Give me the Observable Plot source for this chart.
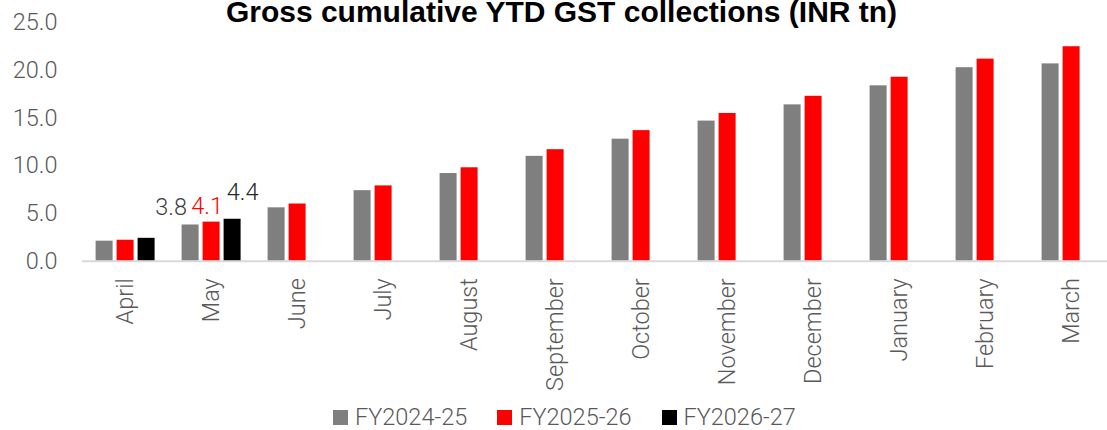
<!DOCTYPE html>
<html>
<head>
<meta charset="utf-8">
<script src="https://cdn.jsdelivr.net/npm/d3@7"></script>
<script src="https://cdn.jsdelivr.net/npm/@observablehq/plot@0.6"></script>
<style>
  html, body { margin: 0; padding: 0; background: #fff; }
  body { width: 1107px; height: 430px; overflow: hidden; position: relative; }
  #chart { position: absolute; left: 0; top: 0; }
  #title { position: absolute; left: 8px; top: 0; width: 1107px; text-align: center;
           font-family: "Liberation Sans", Arial, sans-serif; font-weight: bold; font-size: 30px;
           line-height: 24px; color: #000; z-index: 2; white-space: nowrap; }
  #legend { position: absolute; left: 333px; top: 406px; display: flex; align-items: center;
            font-family: Roboto, sans-serif; font-weight: 300; font-size: 23.5px; line-height: 1; color: #595959; z-index: 2; }
  .item { display: flex; align-items: center; margin-right: 30px; }
  .sw { width: 15px; height: 15px; margin-right: 7px; }
</style>
</head>
<body>
<div id="chart"></div>
<div id="title">Gross cumulative YTD GST collections (INR tn)</div>
<div id="legend"></div>
<script>
const months = ["April","May","June","July","August","September","October","November","December","January","February","March"];
const seriesNames = ["FY2024-25","FY2025-26","FY2026-27"];
const seriesColors = ["#7f7f7f","#ff0000","#000000"];
const fy2425 = [2.1, 3.8, 5.6, 7.4, 9.2, 11.0, 12.8, 14.7, 16.4, 18.4, 20.3, 20.7];
const fy2526 = [2.2, 4.1, 6.0, 7.9, 9.8, 11.7, 13.7, 15.5, 17.3, 19.3, 21.2, 22.5];
const fy2627 = [2.4, 4.4, null, null, null, null, null, null, null, null, null, null];
const yTicks = [0, 5, 10, 15, 20, 25];
const labeledMonth = "May";
const labelColors = ["#404040", "#ff0000", "#262626"];

const seriesValues = [fy2425, fy2526, fy2627];
const data = months.flatMap((m, i) =>
  seriesNames.map((s, j) => ({month: m, series: s, value: seriesValues[j][i]}))
).filter(d => d.value != null);
const labelData = data.filter(d => d.month === labeledMonth);

const labelOffsets = [{dx: -19.5, dy: -18}, {dx: -4.5, dy: -16}, {dx: 10, dy: -27}];

const plot = Plot.plot({
  width: 1107,
  height: 400,
  marginLeft: 80.4,
  marginRight: -8.6,
  marginTop: 22.4,
  marginBottom: 139.3,
  style: {fontFamily: "Roboto, sans-serif", fontWeight: 300, fontSize: "23.5px", color: "#595959", background: "transparent", overflow: "visible"},
  fx: {domain: months, padding: 0, label: null, axis: "bottom", tickRotate: -90, tickSize: 0, tickPadding: 17},
  x: {domain: seriesNames, paddingInner: 0.209, paddingOuter: 0.611, axis: null},
  y: {domain: [0, 25], ticks: yTicks, tickFormat: d3.format(".1f"), tickSize: 0, tickPadding: 25, label: null},
  color: {domain: seriesNames, range: seriesColors},
  marks: [
    Plot.barY(data, {fx: "month", x: "series", y: "value", fill: "series"}),
    Plot.ruleY([0], {stroke: "#d9d9d9", strokeWidth: 2}),
    ...seriesNames.map((s, j) =>
      Plot.text(labelData.filter(d => d.series === s), {
        fx: "month", x: "series", y: "value",
        text: d => d3.format(".1f")(d.value),
        fill: labelColors[j], fontSize: 23.5, fontWeight: 300,
        dx: labelOffsets[j].dx, dy: labelOffsets[j].dy
      })
    )
  ]
});
document.getElementById("chart").appendChild(plot);

const legend = document.getElementById("legend");
seriesNames.forEach((s, j) => {
  const item = document.createElement("div");
  item.className = "item";
  const sw = document.createElement("div");
  sw.className = "sw";
  sw.style.background = seriesColors[j];
  const t = document.createElement("span");
  t.textContent = s;
  item.appendChild(sw);
  item.appendChild(t);
  legend.appendChild(item);
});
</script>
</body>
</html>
